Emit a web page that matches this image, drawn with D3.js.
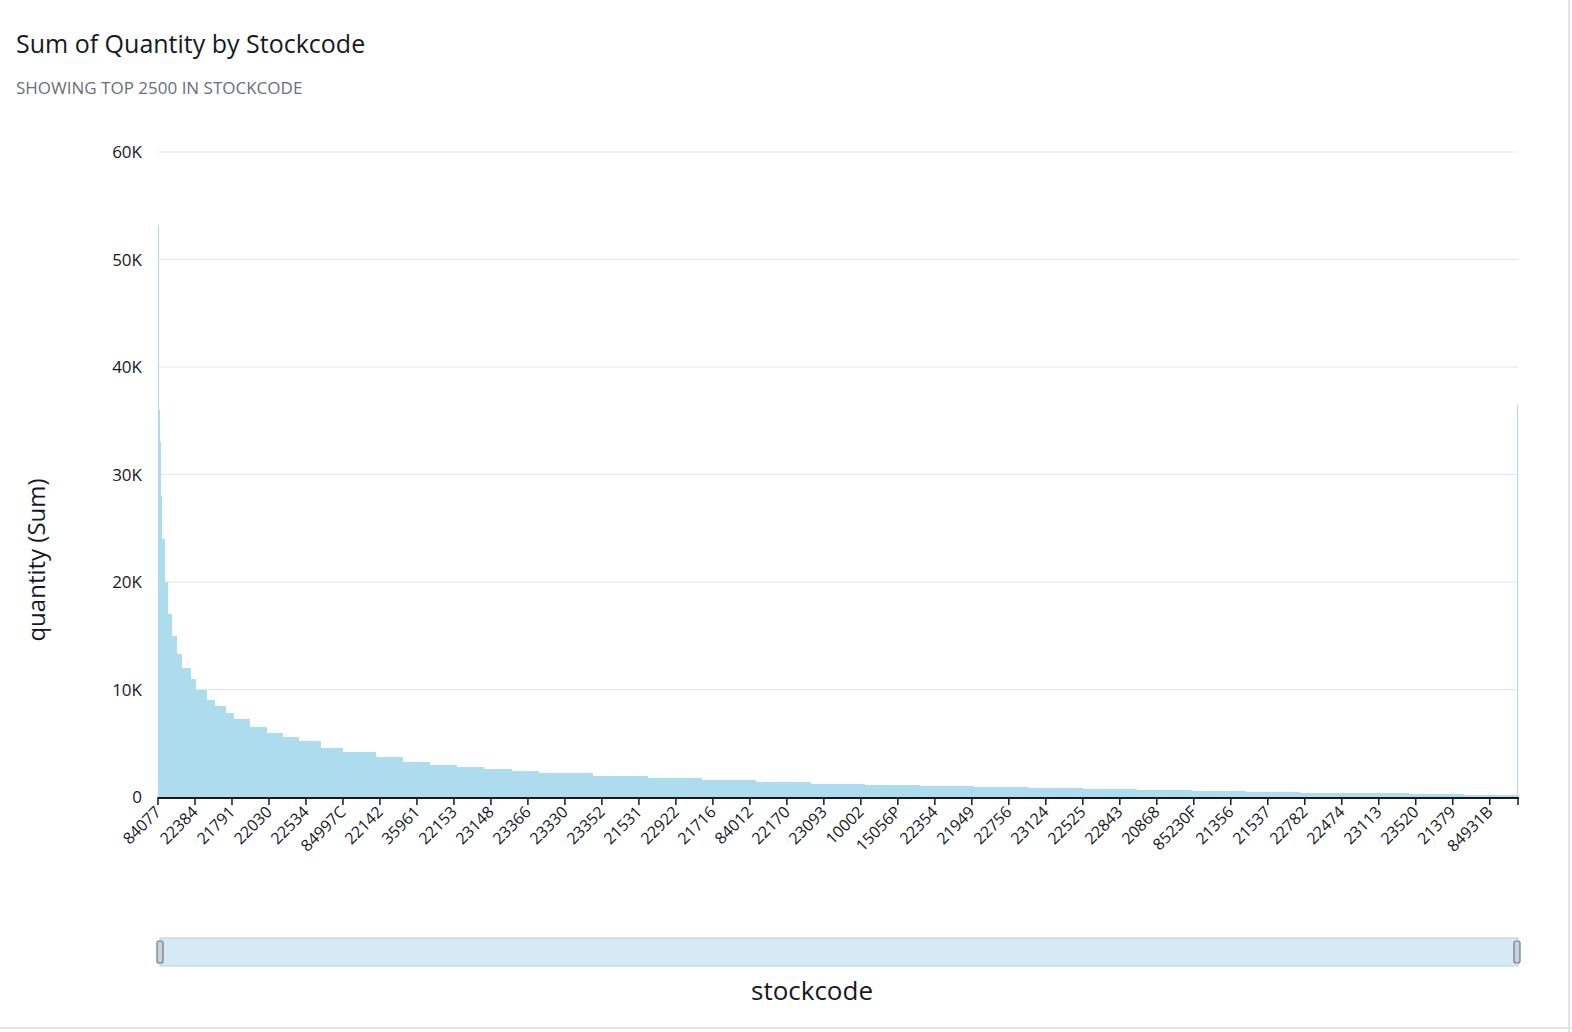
<!DOCTYPE html>
<html>
<head>
<meta charset="utf-8">
<script src="https://cdn.jsdelivr.net/npm/d3@7"></script>
<style>
  body { margin: 0; background: #fff; font-family: "Open Sans", "Noto Sans", sans-serif; }
</style>
</head>
<body>
<svg id="chart" width="1572" height="1032"></svg>
<script>
// Bars are sorted by quantity; each entry starts at a rank and runs until the next one
const barRanks = [0, 1, 2, 3, 5, 8, 12, 18, 25, 35, 45, 60, 70, 90, 105, 125, 140, 170, 200, 230,
  260, 300, 340, 400, 450, 500, 550, 600, 650, 700, 800, 900, 1000, 1100, 1200, 1300, 1400, 1500,
  1600, 1700, 1800, 1900, 2000, 2100, 2200, 2300, 2400, 2480, 2499];
const quantities = [53200, 49000, 36000, 33000, 28000, 24000, 20000, 17000, 15000, 13300, 12000,
  11000, 10000, 9000, 8500, 7800, 7300, 6500, 6000, 5600, 5200, 4600, 4200, 3700, 3300, 3000,
  2800, 2600, 2400, 2200, 2000, 1800, 1600, 1400, 1250, 1100, 1000, 900, 800, 700, 620, 550,
  480, 400, 330, 260, 200, 150, 36500];
const totalBars = 2500;
const tickLabels = ['84077', '22384', '21791', '22030', '22534', '84997C', '22142', '35961', '22153',
  '23148', '23366', '23330', '23352', '21531', '22922', '21716', '84012', '22170', '23093', '10002',
  '15056P', '22354', '21949', '22756', '23124', '22525', '22843', '20868', '85230F', '21356', '21537',
  '22782', '22474', '23113', '23520', '21379', '84931B'];
const tickStep = 68;
const yTicks = [0, 10000, 20000, 30000, 40000, 50000, 60000];

const svg = d3.select('#chart');
const plotLeft = 158, plotRight = 1518, plotTop = 152, plotBottom = 797;

const x = d3.scaleLinear().domain([0, totalBars]).range([plotLeft, plotRight]);
const y = d3.scaleLinear().domain([0, 60000]).range([plotBottom, plotTop]);

// Title
svg.append('text').attr('x', 16).attr('y', 53).attr('font-size', 25).attr('fill', '#16191f')
  .text('Sum of Quantity by Stockcode');
svg.append('text').attr('x', 16).attr('y', 94).attr('font-size', 17).attr('fill', '#687078')
  .text('SHOWING TOP 2500 IN STOCKCODE');

// Gridlines + y labels
svg.append('g').selectAll('line').data(yTicks).enter().append('line')
  .attr('x1', plotLeft).attr('x2', plotRight)
  .attr('y1', d => y(d)).attr('y2', d => y(d))
  .attr('stroke', '#e1e4e8').attr('stroke-width', 1.2);
svg.append('g').selectAll('text').data(yTicks).enter().append('text')
  .attr('x', 142).attr('y', d => y(d) + 6)
  .attr('text-anchor', 'end').attr('font-size', 17).attr('fill', '#16191f')
  .text(d => d === 0 ? '0' : (d / 1000) + 'K');

svg.append('text')
  .attr('transform', 'translate(45,560) rotate(-90)')
  .attr('text-anchor', 'middle').attr('font-size', 24).attr('fill', '#16191f')
  .text('quantity (Sum)');

// Bars
const bars = barRanks.map((r, i) => ({
  start: r,
  end: i + 1 < barRanks.length ? barRanks[i + 1] : totalBars,
  value: quantities[i]
}));
svg.append('g').selectAll('rect').data(bars).enter().append('rect')
  .attr('x', d => x(d.start))
  .attr('width', d => Math.max(x(d.end) - x(d.start), 0.6))
  .attr('y', d => y(d.value))
  .attr('height', d => plotBottom - y(d.value))
  .attr('fill', '#acdcee')
  .attr('shape-rendering', 'crispEdges');

// X axis
svg.append('line').attr('x1', plotLeft).attr('x2', plotRight + 1).attr('y1', plotBottom + 1).attr('y2', plotBottom + 1)
  .attr('stroke', '#16191f').attr('stroke-width', 2);
const xt = svg.append('g').selectAll('g').data(tickLabels).enter().append('g')
  .attr('transform', (d, i) => `translate(${x(i * tickStep)},${plotBottom})`);
xt.append('line').attr('y1', 0).attr('y2', 8).attr('stroke', '#16191f').attr('stroke-width', 1.5);
xt.append('text')
  .attr('transform', 'translate(4,16) rotate(-45)')
  .attr('text-anchor', 'end').attr('font-size', 16).attr('fill', '#16191f')
  .text(d => d);
svg.append('line').attr('x1', plotRight).attr('x2', plotRight).attr('y1', plotBottom).attr('y2', plotBottom + 8)
  .attr('stroke', '#16191f').attr('stroke-width', 1.5);

// Scroll bar
svg.append('rect').attr('x', 160).attr('y', 938).attr('width', 1358).attr('height', 28)
  .attr('fill', '#d6eaf6').attr('stroke', '#b7cfdd');
[160, 1517].forEach(hx => {
  svg.append('rect').attr('x', hx - 3).attr('y', 941).attr('width', 6).attr('height', 22)
    .attr('rx', 2).attr('fill', '#c9d2da').attr('stroke', '#6c7a86').attr('stroke-width', 1.2);
});
svg.append('text').attr('x', 812).attr('y', 1000).attr('text-anchor', 'middle')
  .attr('font-size', 26).attr('fill', '#16191f').text('stockcode');

// Frame
svg.append('line').attr('x1', 0).attr('x2', 1572).attr('y1', 1028).attr('y2', 1028).attr('stroke', '#e1e4e8').attr('stroke-width', 2);
svg.append('line').attr('x1', 1569).attr('x2', 1569).attr('y1', 0).attr('y2', 1032).attr('stroke', '#e1e4e8').attr('stroke-width', 2);
</script>
</body>
</html>
